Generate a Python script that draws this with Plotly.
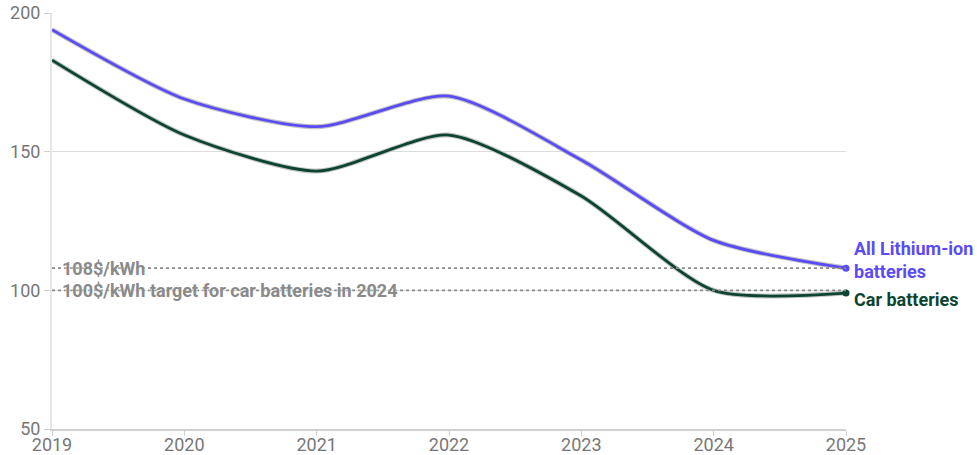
import plotly.graph_objects as go

years = [2019, 2020, 2021, 2022, 2023, 2024, 2025]
all_li = [194, 169, 159, 170, 147, 118, 108]
car = [183, 156, 143, 156, 134, 100, 99]
ref_values = [108, 100]
ref_labels = ["108$/kWh", "100$/kWh target for car batteries in 2024"]
y_ticks = [50, 100, 150, 200]

BLUE = "#5b4bf7"
GREEN = "#0b4530"
GREY = "#8a8a8a"
FONT = "Roboto"
SMOOTH = 0.7

fig = go.Figure()

for ys, col in [(all_li, BLUE), (car, GREEN)]:
    fig.add_trace(go.Scatter(x=years, y=ys, mode="lines", line=dict(color="#c4c4c4", width=5, shape="spline", smoothing=SMOOTH),
                             hoverinfo="skip", showlegend=False))
    fig.add_trace(go.Scatter(x=years, y=ys, mode="lines", line=dict(color=col, width=2.8, shape="spline", smoothing=SMOOTH),
                             showlegend=False))
    fig.add_trace(go.Scatter(x=[years[-1]], y=[ys[-1]], mode="markers", marker=dict(color=col, size=7),
                             cliponaxis=False, showlegend=False))

for v, lab in zip(ref_values, ref_labels):
    fig.add_shape(type="line", xref="x", yref="y", x0=years[0], x1=years[-1], y0=v, y1=v,
                  line=dict(color=GREY, width=1.6, dash="dot"), layer="above")
    fig.add_annotation(x=years[0], y=v, text="<b>%s</b>" % lab, showarrow=False, xanchor="left", yanchor="middle",
                       xshift=8, font=dict(family=FONT, size=18, color=GREY, shadow="0px 0px 3px white"))

fig.add_annotation(x=years[-1], y=all_li[-1], text="<b>All Lithium-ion<br>batteries</b>", showarrow=False,
                   xanchor="left", yanchor="middle", xshift=6, yshift=8, align="left",
                   font=dict(family=FONT, size=18, color=BLUE, shadow="0px 0px 3px white"))
fig.add_annotation(x=years[-1], y=car[-1], text="<b>Car batteries</b>", showarrow=False,
                   xanchor="left", yanchor="middle", xshift=6, yshift=-6, align="left",
                   font=dict(family=FONT, size=18, color=GREEN, shadow="0px 0px 3px white"))

fig.update_layout(
    width=977, height=455,
    margin=dict(l=52, r=131, t=13, b=26, autoexpand=False),
    plot_bgcolor="white", paper_bgcolor="white",
    font=dict(family=FONT, size=18, color="#777"),
    xaxis=dict(range=[2019, 2025], tickvals=years, ticktext=[str(y) for y in years], showgrid=False,
               showline=True, linecolor="#d0d0d0", linewidth=2, ticks="outside", tickcolor="#d0d0d0",
               ticklen=5, tickwidth=1, zeroline=False, automargin=False, ticklabelstandoff=-7,
               tickfont=dict(size=18, color="#777")),
    yaxis=dict(range=[50, 200], tickvals=y_ticks, showgrid=True, gridcolor="#dcdcdc", gridwidth=1,
               showline=True, linecolor="#e6e6e6", linewidth=2, ticks="outside", tickcolor="#d0d0d0",
               ticklen=6, zeroline=False, automargin=False, tickfont=dict(size=18, color="#777")),
)

fig.write_html("out.html")
